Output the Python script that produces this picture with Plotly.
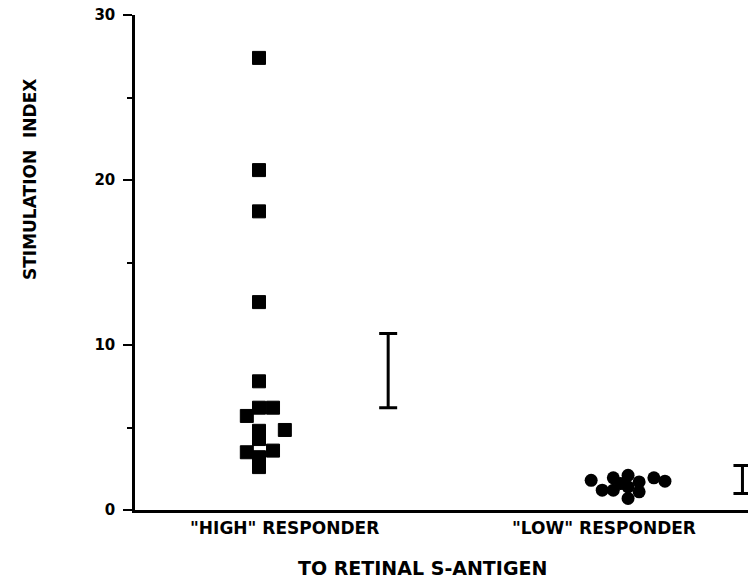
import plotly.graph_objects as go

# ---- data ----
categories = ['"HIGH" RESPONDER', '"LOW" RESPONDER']
cat_pos = [1, 2]
label_pos = [1.07, 1.935]

high_values = [27.4, 20.6, 18.1, 12.6, 7.8, 6.2, 6.2, 5.7, 4.8, 4.85, 4.3, 3.5, 3.2, 3.6, 2.6]
high_offsets = [0, 0, 0, 0, 0, 0, 0.038, -0.033, 0, 0.07, 0, -0.033, 0, 0.038, 0]

low_values = [1.8, 1.2, 1.95, 1.2, 2.1, 1.4, 0.7, 1.7, 1.1, 1.95, 1.75, 1.6]
low_offsets = [-0.10, -0.07, -0.04, -0.04, 0, 0, 0, 0.03, 0.03, 0.07, 0.10, -0.02]

# error bars (mean +/- spread) drawn beside each group
err_mean = [8.45, 1.85]
err_half = [2.25, 0.85]
err_offset = [0.35, 0.31]

y_ticks = [0, 10, 20, 30]

FONT = "DejaVu Sans"

fig = go.Figure()

fig.add_trace(go.Scatter(
    x=[cat_pos[0] + o for o in high_offsets], y=high_values, mode="markers",
    marker=dict(symbol="square", size=13, color="black",
                line=dict(color="black", width=1)),
    showlegend=False))

fig.add_trace(go.Scatter(
    x=[cat_pos[1] + o for o in low_offsets], y=low_values, mode="markers",
    marker=dict(symbol="circle", size=13, color="black"),
    showlegend=False))

fig.add_trace(go.Scatter(
    x=[p + o for p, o in zip(cat_pos, err_offset)], y=err_mean, mode="markers",
    marker=dict(size=1, color="rgba(0,0,0,0)"),
    error_y=dict(type="data", array=err_half, visible=True,
                 color="black", thickness=3, width=9),
    showlegend=False))

fig.update_layout(
    width=748, height=587,
    margin=dict(l=135, r=0, t=15, b=77),
    paper_bgcolor="white", plot_bgcolor="white",
    font=dict(family=FONT, color="black"),
    xaxis=dict(range=[0.664, 2.325], showgrid=False, zeroline=False,
               showline=True, linecolor="black", linewidth=2.5,
               showticklabels=False, ticks=""),
    yaxis=dict(range=[0, 30], showgrid=False, zeroline=False,
               showline=True, linecolor="black", linewidth=2.5,
               tickvals=y_ticks, ticktext=["<b>%d</b>" % t for t in y_ticks],
               ticks="outside", ticklen=9, tickwidth=2, tickcolor="black",
               ticklabelstandoff=5, ticklabeloverflow="allow",
               tickfont=dict(size=15, family=FONT),
               minor=dict(dtick=5, ticks="outside", ticklen=5, tickwidth=2,
                          tickcolor="black")),
)

for c, p in zip(categories, label_pos):
    fig.add_annotation(x=p, y=0, xref="x", yref="paper", yanchor="top",
                       xanchor="center", yshift=-6, text="<b>%s</b>" % c,
                       showarrow=False, font=dict(size=17, family=FONT))

fig.add_annotation(x=0.469, y=-0.117, xref="paper", yref="paper",
                   xanchor="center", yanchor="middle",
                   text="<b>TO RETINAL S-ANTIGEN</b>", showarrow=False,
                   font=dict(size=19, family=FONT))

fig.add_annotation(x=-0.171, y=0.667, xref="paper", yref="paper",
                   xanchor="center", yanchor="middle",
                   text="<b>STIMULATION  INDEX</b>", textangle=-90, showarrow=False,
                   font=dict(size=17, family=FONT))

# place the figure at the page origin (no default body margin / scrollbars)
fig.write_html(
    "out.html",
    config={"displayModeBar": False},
    post_script="document.body.style.margin='0';document.body.style.overflow='hidden';",
)
